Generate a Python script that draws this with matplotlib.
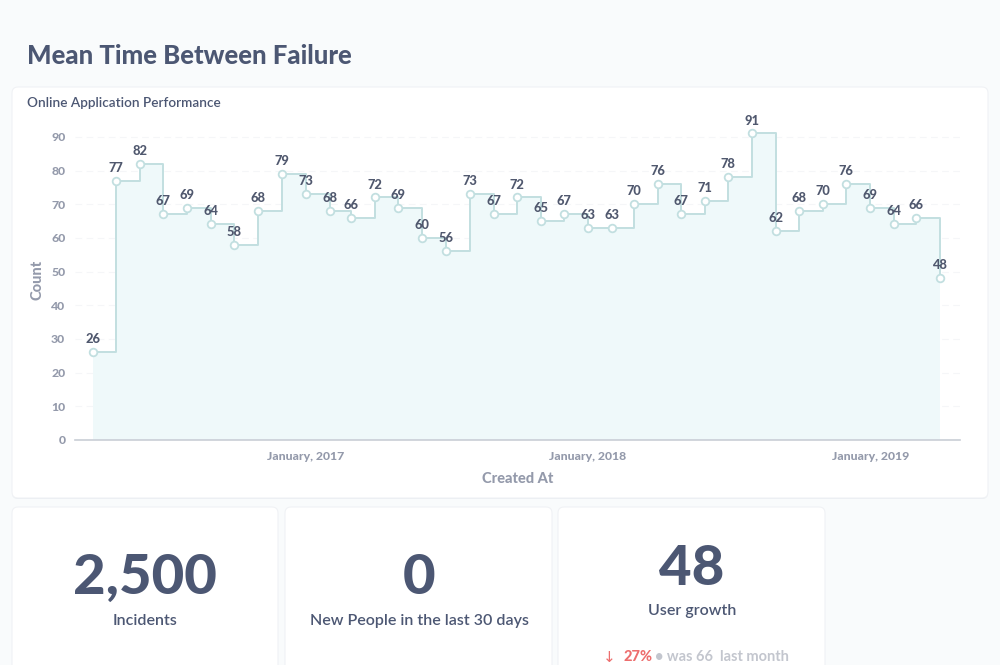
import matplotlib
matplotlib.use("Agg")
import matplotlib.pyplot as plt
import matplotlib.dates as mdates
from matplotlib.patches import FancyBboxPatch
import pandas as pd
import numpy as np

plt.rcParams['font.family'] = ['Lato', 'DejaVu Sans']

# ---- data ----
start_month = "2016-04-01"
counts = [26, 77, 82, 67, 69, 64, 58, 68, 79, 73, 68, 66, 72, 69, 60, 56, 73,
          67, 72, 65, 67, 63, 63, 70, 76, 67, 71, 78, 91, 62, 68, 70, 76, 69,
          64, 66, 48]
y_ticks = [0, 10, 20, 30, 40, 50, 60, 70, 80, 90]
x_tick_dates = ["2017-01-01", "2018-01-01", "2019-01-01"]
x_tick_labels = ["January, 2017", "January, 2018", "January, 2019"]

title = "Mean Time Between Failure"
card_title = "Online Application Performance"
scalar_values = ["2,500", "0", "48"]
scalar_labels = ["Incidents", "New People in the last 30 days", "User growth"]
delta_pct = "27%"
delta_rest = "• was 66  last month"

months = pd.date_range(start_month, periods=len(counts), freq="MS")

W, H = 1000, 665
fig = plt.figure(figsize=(W / 100, H / 100), dpi=100)
fig.patch.set_facecolor("#F9FBFC")

# background axes in pixel coordinates
bg = fig.add_axes([0, 0, 1, 1])
bg.set_xlim(0, W)
bg.set_ylim(H, 0)
bg.axis("off")
bg.set_zorder(0)

DARK = "#4C5773"
GREY = "#949AAB"


def card(x0, y0, x1, y1):
    sh = FancyBboxPatch((x0, y0 + 1), x1 - x0, y1 - y0,
                        boxstyle="round,pad=0,rounding_size=6",
                        fc="#E9EDF1", ec="none", zorder=1)
    bg.add_patch(sh)
    p = FancyBboxPatch((x0, y0), x1 - x0, y1 - y0,
                       boxstyle="round,pad=0,rounding_size=6",
                       fc="white", ec="#F0F2F5", lw=0.8, zorder=2)
    bg.add_patch(p)


card(12, 87, 988, 498)
card(12, 507, 278, 672)
card(285, 507, 552, 672)
card(558, 507, 825, 672)

bg.text(27, 56, title, fontsize=18.5, fontweight="black", color=DARK,
        va="center", ha="left", zorder=3)
bg.text(27, 103, card_title, fontsize=9.8, fontweight="semibold", color=DARK,
        va="center", ha="left", zorder=3)

# scalar cards
centers = [145, 419, 692]
big_y = [578, 578, 569]
lab_y = [621, 621, 611]
for cx, by, ly, v, l in zip(centers, big_y, lab_y, scalar_values, scalar_labels):
    bg.text(cx, by, v, fontsize=40.5, fontweight="black", color=DARK,
            ha="center", va="center", zorder=3)
    bg.text(cx, ly, l, fontsize=11.5, fontweight="semibold", color=DARK,
            ha="center", va="center", zorder=3)

bg.text(609, 657, "↓", fontsize=11, color="#ED6E6E", ha="center",
        va="center", zorder=3, family=["DejaVu Sans"])
bg.text(623, 657, delta_pct, fontsize=10.5, fontweight="black",
        color="#ED6E6E", ha="left", va="center", zorder=3)
bg.text(655, 657, delta_rest, fontsize=10.5, fontweight="bold",
        color="#C3C6CE", ha="left", va="center", zorder=3)

# ---- chart axes ----
ax_left, ax_right = 75, 960
ax_bottom, ax_top = 440, 120
ax = fig.add_axes([ax_left / W, 1 - ax_bottom / H,
                   (ax_right - ax_left) / W, (ax_bottom - ax_top) / H])
ax.set_zorder(5)
ax.patch.set_alpha(0)

LINE = "#C2DFE0"
FILL = "#EFF9FA"

xn = mdates.date2num(months)
ax.fill_between(months, counts, step="post", color=FILL, lw=0, zorder=1)
ax.step(months, counts, where="post", color=LINE, lw=1.4, zorder=3)
ax.plot(months, counts, ls="none", marker="o", ms=5.5, mfc="white",
        mec=LINE, mew=1.3, zorder=4)

for d, v in zip(months, counts):
    ax.annotate(str(v), (d, v), xytext=(0, 5), textcoords="offset points",
                ha="center", va="bottom", fontsize=9.3, fontweight="black",
                color="#50586E", zorder=6, annotation_clip=False)

ax.set_ylim(0, 95)
ax.set_xlim(xn[0] - 23, xn[-1] + 26)
ax.set_yticks(y_ticks)
ax.set_xticks(pd.to_datetime(x_tick_dates))
ax.set_xticklabels(x_tick_labels)

for s in ["top", "right", "left"]:
    ax.spines[s].set_visible(False)
ax.spines["bottom"].set_color("#C9CED6")
ax.spines["bottom"].set_linewidth(1.2)

ax.tick_params(axis="y", length=0, pad=7, labelsize=8.8, labelcolor=GREY)
ax.tick_params(axis="x", length=0, pad=8, labelsize=8.8,
               labelcolor=GREY)
for lab in ax.get_xticklabels() + ax.get_yticklabels():
    lab.set_fontweight("black")

ax.grid(axis="y", color="#F5F6F8", lw=0.8, ls=(0, (6, 4)), zorder=0)
ax.set_axisbelow(True)

ax.set_ylabel("Count", fontsize=10.5, fontweight="black", color=GREY,
              labelpad=5)
ax.set_xlabel("Created At", fontsize=10.5, fontweight="black", color=GREY,
              labelpad=7)

fig.savefig("out.png", dpi=100, facecolor=fig.get_facecolor())
